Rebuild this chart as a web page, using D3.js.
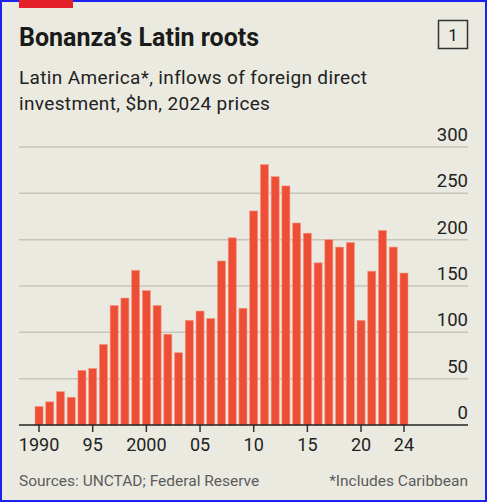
<!DOCTYPE html>
<html>
<head>
<meta charset="utf-8">
<script src="https://cdn.jsdelivr.net/npm/d3@7"></script>
<style>
  html, body { margin: 0; padding: 0; background: #ebeae0; }
  #chart { width: 487px; height: 502px; }
  text { font-family: Roboto, "Noto Sans", sans-serif; }
</style>
</head>
<body>
<div id="chart"></div>
<script>
// FDI inflows, Latin America, $bn 2024 prices
const years = d3.range(1990, 2025);
const values = [20, 25, 36, 30, 59, 61, 87, 129, 137, 167, 145, 129, 98, 78, 113,
                123, 115, 177, 202, 126, 231, 281, 268, 258, 218, 207, 175, 200, 192, 197,
                113, 166, 210, 192, 164];
const yTicks = [0, 50, 100, 150, 200, 250, 300];
const xTicks = [1990, 1995, 2000, 2005, 2010, 2015, 2020, 2024];
const xTickLabels = ["1990", "95", "2000", "05", "10", "15", "20", "24"];

const width = 487, height = 502;
const svg = d3.select("#chart").append("svg")
    .attr("width", width)
    .attr("height", height);

svg.append("rect") // background + blue frame
    .attr("x", 1).attr("y", 1)
    .attr("width", width - 2).attr("height", height - 2)
    .attr("fill", "#ebeae0")
    .attr("stroke", "#1b22f0")
    .attr("stroke-width", 2);

svg.append("rect") // red tag
    .attr("x", 19).attr("y", 0)
    .attr("width", 54).attr("height", 8)
    .attr("fill", "#e3202a");

svg.append("text")
    .attr("x", 19).attr("y", 46)
    .style("font-size", "25px").style("font-weight", "bold")
    .attr("fill", "#1a1a1a")
    .text("Bonanza’s Latin roots");

svg.append("rect")
    .attr("x", 438.5).attr("y", 20.5)
    .attr("width", 29).attr("height", 28)
    .attr("fill", "none").attr("stroke", "#333").attr("stroke-width", 1.5);
svg.append("text")
    .attr("x", 453).attr("y", 41)
    .attr("text-anchor", "middle")
    .style("font-size", "17px")
    .attr("fill", "#1a1a1a")
    .text("1");

svg.append("text")
    .attr("x", 19).attr("y", 84)
    .style("font-size", "19px").style("letter-spacing", "0.35px").attr("fill", "#222")
    .text("Latin America*, inflows of foreign direct");
svg.append("text")
    .attr("x", 19).attr("y", 110)
    .style("font-size", "19px").style("letter-spacing", "0.35px").attr("fill", "#222")
    .text("investment, $bn, 2024 prices");

const left = 19, right = 468;
const x = d3.scaleBand()
    .domain(years)
    .range([35, 408])
    .paddingInner(0.25)
    .paddingOuter(0);
const y = d3.scaleLinear()
    .domain([0, 300])
    .range([425, 147]);

// gridlines
svg.append("g")
    .selectAll("line")
    .data(yTicks.filter(d => d > 0))
    .enter().append("line")
        .attr("x1", left).attr("x2", right)
        .attr("y1", d => y(d)).attr("y2", d => y(d))
        .attr("stroke", "#c6c5bb").attr("stroke-width", 1.5);

// y labels
svg.append("g")
    .selectAll("text")
    .data(yTicks)
    .enter().append("text")
        .attr("x", right)
        .attr("y", d => y(d) - 6)
        .attr("text-anchor", "end")
        .style("font-size", "18.5px")
        .attr("fill", "#222")
        .text(d => d);

// bars
svg.append("g")
    .selectAll("rect")
    .data(values)
    .enter().append("rect")
        .attr("x", (d, i) => x(years[i]))
        .attr("width", x.bandwidth())
        .attr("y", d => y(d))
        .attr("height", d => y(0) - y(d))
        .attr("fill", "#ef4e36")
        .attr("stroke", "#f29a86")
        .attr("stroke-width", 0.6);

// x axis
const xAxis = svg.append("g")
    .attr("transform", `translate(0,${y(0)})`)
    .call(d3.axisBottom(x)
        .tickValues(xTicks)
        .tickSize(7)
        .tickFormat((d, i) => xTickLabels[i]));
xAxis.select(".domain").remove();
xAxis.selectAll(".tick line").attr("stroke", "#333").attr("stroke-width", 1.5);
xAxis.selectAll(".tick text")
    .attr("y", 13)
    .style("font-size", "18px")
    .attr("fill", "#222")
    .attr("font-family", null);
svg.append("line")
    .attr("x1", left).attr("x2", right)
    .attr("y1", y(0)).attr("y2", y(0))
    .attr("stroke", "#222").attr("stroke-width", 1.5);

svg.append("text")
    .attr("x", 19).attr("y", 486)
    .style("font-size", "15.5px").attr("fill", "#5c5c5c")
    .text("Sources: UNCTAD; Federal Reserve");
svg.append("text")
    .attr("x", right).attr("y", 486)
    .attr("text-anchor", "end")
    .style("font-size", "15.5px").attr("fill", "#5c5c5c")
    .text("*Includes Caribbean");
</script>
</body>
</html>
